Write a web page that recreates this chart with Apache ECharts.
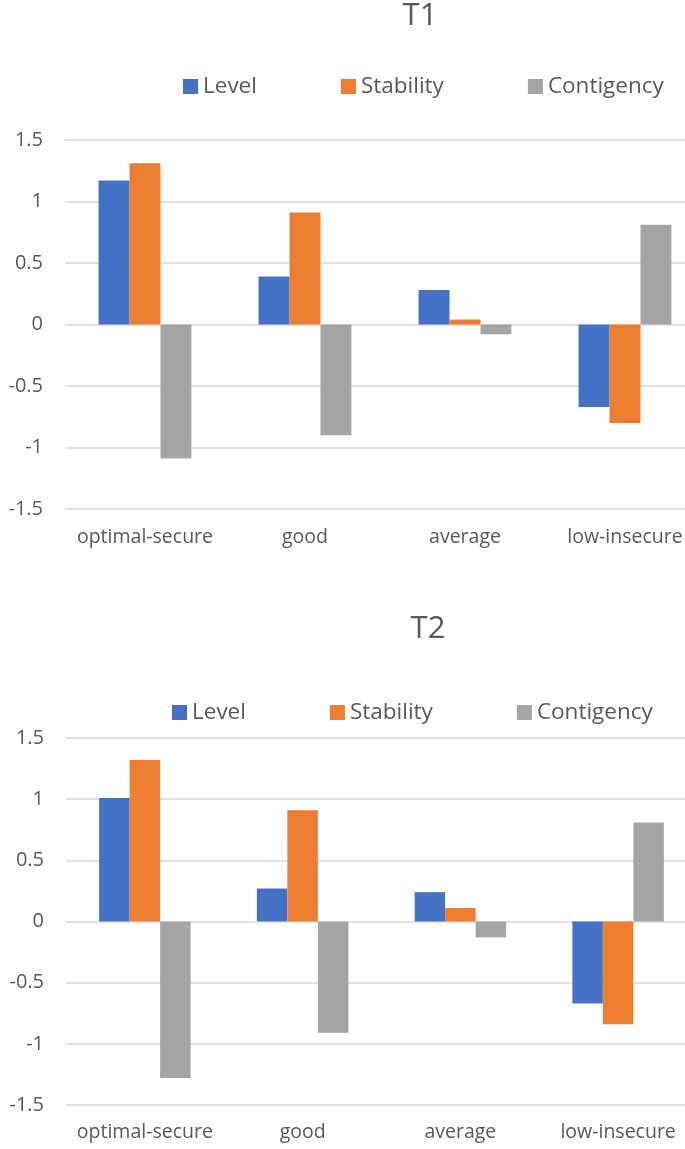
<!DOCTYPE html>
<html>
<head>
<meta charset="utf-8">
<script src="https://cdn.jsdelivr.net/npm/echarts@6/dist/echarts.min.js"></script>
<style>
html,body{margin:0;padding:0;background:#fff;overflow:hidden;width:685px;height:1149px;}
#chart{width:720px;height:1149px;}
</style>
</head>
<body>
<div id="chart"></div>
<script>
const categories = ['optimal-secure', 'good', 'average', 'low-insecure'];
const seriesNames = ['Level', 'Stability', 'Contigency'];
const t1Level = [1.17, 0.39, 0.28, -0.67];
const t1Stability = [1.31, 0.91, 0.04, -0.80];
const t1Contigency = [-1.09, -0.90, -0.08, 0.81];
const t2Level = [1.01, 0.27, 0.24, -0.67];
const t2Stability = [1.32, 0.91, 0.11, -0.84];
const t2Contigency = [-1.28, -0.91, -0.13, 0.81];
const yMin = -1.5, yMax = 1.5, yStep = 0.5;

const colors = ['#4472C4', '#ED7D31', '#A5A5A5'];
const textColor = '#595959';
const font = 'Open Sans';

const chart = echarts.init(document.getElementById('chart'), null, {renderer: 'canvas'});

function xAxis(gi, margin) {
  return {
    type: 'category', gridIndex: gi, data: categories,
    axisLine: {show: false, onZero: false}, axisTick: {show: false},
    axisLabel: {color: textColor, fontSize: 19.5, fontFamily: font, margin: margin, interval: 0}
  };
}
function yAxis(gi) {
  return {
    type: 'value', gridIndex: gi, min: yMin, max: yMax, interval: yStep,
    axisLine: {show: false}, axisTick: {show: false},
    axisLabel: {color: textColor, fontSize: 20, fontFamily: font, margin: 22},
    splitLine: {lineStyle: {color: '#D9D9D9', width: 1.5}}
  };
}
function bars(gi, arrs) {
  return arrs.map((d, i) => ({
    name: seriesNames[i], type: 'bar', xAxisIndex: gi, yAxisIndex: gi,
    data: d, barGap: '0%', barCategoryGap: '42%',
    itemStyle: {color: colors[i]}, animation: false
  }));
}

const option = {
  animation: false,
  color: colors,
  textStyle: {fontFamily: font},
  title: [
    {text: 'T1', left: 420, top: 1, textAlign: 'center', padding: 0,
     textStyle: {color: textColor, fontSize: 31, fontWeight: 'normal', fontFamily: font}},
    {text: 'T2', left: 428, top: 614, textAlign: 'center', padding: 0,
     textStyle: {color: textColor, fontSize: 31, fontWeight: 'normal', fontFamily: font}}
  ],
  legend: [
    {data: seriesNames, left: 183, top: 75, padding: 0, itemGap: 84, itemWidth: 15, itemHeight: 15,
     icon: 'rect', textStyle: {color: textColor, fontSize: 22.5, fontFamily: font}},
    {data: seriesNames, left: 172, top: 701, padding: 0, itemGap: 84, itemWidth: 15, itemHeight: 15,
     icon: 'rect', textStyle: {color: textColor, fontSize: 22.5, fontFamily: font}}
  ],
  grid: [
    {left: 65, top: 140, height: 369, width: 640},
    {left: 66, top: 738, height: 367, width: 631}
  ],
  xAxis: [xAxis(0, 18), xAxis(1, 17)],
  yAxis: [yAxis(0), yAxis(1)],
  series: [].concat(
    bars(0, [t1Level, t1Stability, t1Contigency]),
    bars(1, [t2Level, t2Stability, t2Contigency])
  )
};
chart.setOption(option);
</script>
</body>
</html>
